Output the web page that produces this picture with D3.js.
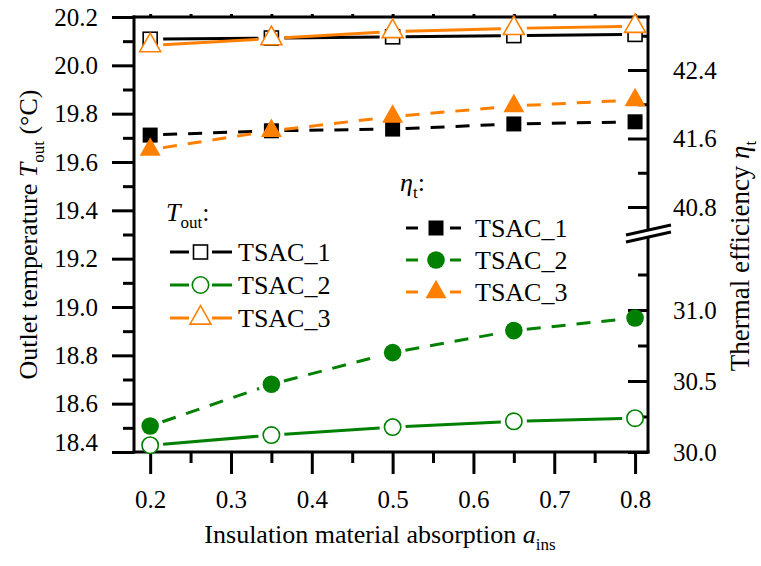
<!DOCTYPE html>
<html>
<head>
<meta charset="utf-8">
<script src="https://cdn.jsdelivr.net/npm/d3@7"></script>
<style>
  body { margin: 0; background: #fff; }
  svg { display: block; }
  svg text { font-family: 'Liberation Serif', Tinos, 'Times New Roman', Times, 'DejaVu Serif', serif; }
</style>
</head>
<body>
<div id="viz"></div>
<script>
/* ===== DATA ===== */
const absorption = [0.2, 0.35, 0.5, 0.65, 0.8];

// outlet temperature (left axis, °C)
const toutTSAC1 = [20.108, 20.113, 20.118, 20.123, 20.128];
const toutTSAC2 = [18.428, 18.47, 18.503, 18.527, 18.54];
const toutTSAC3 = [20.082, 20.111, 20.14, 20.153, 20.162];

// thermal efficiency (right axis, broken)
const etaTSAC1 = [41.64, 41.69, 41.71, 41.77, 41.795];
const etaTSAC2 = [30.183, 30.477, 30.70, 30.855, 30.944];
const etaTSAC3 = [41.47, 41.69, 41.855, 41.98, 42.05];

const seriesNames = ['TSAC_1', 'TSAC_2', 'TSAC_3'];

const xTicks = [0.2, 0.3, 0.4, 0.5, 0.6, 0.7, 0.8];
const xMinorTicks = [0.25, 0.35, 0.45, 0.55, 0.65, 0.75];
const leftTicks = [18.4, 18.6, 18.8, 19.0, 19.2, 19.4, 19.6, 19.8, 20.0, 20.2];
const leftMinorTicks = [18.5, 18.7, 18.9, 19.1, 19.3, 19.5, 19.7, 19.9, 20.1];
const rightUpperTicks = [40.8, 41.6, 42.4];
const rightUpperMinor = [41.2, 42.0, 42.8];
const rightLowerTicks = [30.0, 30.5, 31.0];
const rightLowerMinor = [30.25, 30.75, 31.25];

/* ===== CHART DIMENSION ===== */
const width = 761;
const height = 566;
const frame = { left: 134, right: 648, top: 17, bottom: 452 };
const breakY = { top: 230, bottom: 237 };
const serif = "'Liberation Serif', Tinos, 'Times New Roman', Times, 'DejaVu Serif', serif";

const green = '#008000';
const orange = '#FF8000';
const black = '#000000';

/* ===== DRAW CANVAS ===== */
const svg = d3.select('#viz')
  .append('svg')
  .attr('width', width)
  .attr('height', height)
  .attr('font-family', serif);

svg.append('rect').attr('width', width).attr('height', height).attr('fill', '#fff');

/* ===== SCALES ===== */
const xScale = d3.scaleLinear()
  .domain([0.18, 0.816])
  .range([frame.left, frame.right]);

const yLeft = d3.scaleLinear()
  .domain([18.4, 20.2])
  .range([frame.bottom, frame.top]);

// right axis has two pieces around the break
const yRightUpper = d3.scaleLinear()
  .domain([40.8, 42.4])
  .range([207, 70]);

const yRightLower = d3.scaleLinear()
  .domain([30.0, 31.0])
  .range([frame.bottom, 310]);

/* ===== AXES ===== */
function styleAxis(g, fontSize) {
  g.attr('font-family', serif);
  g.select('.domain').remove();
  g.selectAll('line').attr('stroke', black).attr('stroke-width', 3);
  g.selectAll('text')
    .attr('fill', black)
    .attr('font-size', fontSize);
}

const fmt = d3.format('.1f');

// bottom
svg.append('g')
  .attr('transform', `translate(0, ${frame.bottom})`)
  .call(d3.axisBottom(xScale).tickValues(xTicks).tickSize(22).tickPadding(16).tickFormat(fmt))
  .call(g => styleAxis(g, 25));
svg.append('g')
  .attr('transform', `translate(0, ${frame.bottom})`)
  .call(d3.axisBottom(xScale).tickValues(xMinorTicks).tickSize(11).tickFormat(''))
  .call(g => styleAxis(g, 25));

// top (tiny ticks only)
svg.append('g')
  .attr('transform', `translate(0, ${frame.top})`)
  .call(d3.axisTop(xScale).tickValues(xTicks.concat(xMinorTicks)).tickSize(3).tickFormat(''))
  .call(g => styleAxis(g, 25));

// left
svg.append('g')
  .attr('transform', `translate(${frame.left}, 0)`)
  .call(d3.axisLeft(yLeft).tickValues(leftTicks).tickSize(22).tickPadding(14).tickFormat(fmt))
  .call(g => styleAxis(g, 25))
  .call(g => g.selectAll('text').attr('y', d => d === 18.4 ? -10 : 0));
svg.append('g')
  .attr('transform', `translate(${frame.left}, 0)`)
  .call(d3.axisLeft(yLeft).tickValues(leftMinorTicks).tickSize(11).tickFormat(''))
  .call(g => styleAxis(g, 25));

// right, upper part
svg.append('g')
  .attr('transform', `translate(${frame.right}, 0)`)
  .call(d3.axisRight(yRightUpper).tickValues(rightUpperTicks).tickSize(-20).tickPadding(25).tickFormat(fmt))
  .call(g => styleAxis(g, 25));
svg.append('g')
  .attr('transform', `translate(${frame.right}, 0)`)
  .call(d3.axisRight(yRightUpper).tickValues(rightUpperMinor).tickSize(-10).tickFormat(''))
  .call(g => styleAxis(g, 25));

// right, lower part
svg.append('g')
  .attr('transform', `translate(${frame.right}, 0)`)
  .call(d3.axisRight(yRightLower).tickValues(rightLowerTicks).tickSize(-20).tickPadding(25).tickFormat(fmt))
  .call(g => styleAxis(g, 25));
svg.append('g')
  .attr('transform', `translate(${frame.right}, 0)`)
  .call(d3.axisRight(yRightLower).tickValues(rightLowerMinor).tickSize(-10).tickFormat(''))
  .call(g => styleAxis(g, 25));

/* ===== FRAME ===== */
const frameG = svg.append('g')
  .attr('stroke', black)
  .attr('stroke-width', 3)
  .attr('stroke-linecap', 'square')
  .attr('fill', 'none');

frameG.append('line').attr('x1', frame.left).attr('x2', frame.right).attr('y1', frame.top).attr('y2', frame.top);
frameG.append('line').attr('x1', frame.left).attr('x2', frame.right).attr('y1', frame.bottom).attr('y2', frame.bottom);
frameG.append('line').attr('x1', frame.left).attr('x2', frame.left).attr('y1', frame.top).attr('y2', frame.bottom);
frameG.append('line').attr('x1', frame.right).attr('x2', frame.right).attr('y1', frame.top).attr('y2', breakY.top);
frameG.append('line').attr('x1', frame.right).attr('x2', frame.right).attr('y1', breakY.bottom).attr('y2', frame.bottom);

// axis break marks
const breakG = svg.append('g');
breakG.append('path')
  .attr('d', 'M626,235 L671,225 L671,232 L626,242 Z')
  .attr('fill', '#fff');
[0, 7].forEach(off => {
  breakG.append('line')
    .attr('x1', 626).attr('y1', 235 + off)
    .attr('x2', 671).attr('y2', 225 + off)
    .attr('stroke', black).attr('stroke-width', 3);
});

/* ===== SERIES ===== */
const lineGen = d3.line();
const gap = 13;

function drawSeries(values, yScale, color, dashed, symbol, filled) {
  const pts = absorption.map((a, i) => [xScale(a), yScale(values[i])]);
  const g = svg.append('g');
  // line pieces stop short of the symbols
  for (let i = 0; i < pts.length - 1; i++) {
    const [x0, y0] = pts[i];
    const [x1, y1] = pts[i + 1];
    const len = Math.hypot(x1 - x0, y1 - y0);
    const ux = (x1 - x0) / len;
    const uy = (y1 - y0) / len;
    g.append('path')
      .attr('d', lineGen([[x0 + ux * gap, y0 + uy * gap], [x1 - ux * gap, y1 - uy * gap]]))
      .attr('fill', 'none')
      .attr('stroke', color)
      .attr('stroke-width', 3)
      .attr('stroke-dasharray', dashed ? '14,11' : null);
  }
  pts.forEach(p => drawSymbol(g, p[0], p[1], symbol, color, filled));
}

function drawSymbol(g, cx, cy, symbol, color, filled) {
  const fill = filled ? color : '#fff';
  const sw = filled ? 0 : 1.6;
  if (symbol === 'square') {
    const s = filled ? 15 : 14;
    g.append('rect')
      .attr('x', cx - s / 2).attr('y', cy - s / 2)
      .attr('width', s).attr('height', s)
      .attr('fill', fill).attr('stroke', color).attr('stroke-width', sw);
  } else if (symbol === 'circle') {
    g.append('circle')
      .attr('cx', cx).attr('cy', cy)
      .attr('r', filled ? 8.8 : 8.2)
      .attr('fill', fill).attr('stroke', color).attr('stroke-width', sw);
  } else {
    // triangle centred on its centroid
    const w = 21, h = 18.5;
    const d = `M${cx},${cy - h * 2 / 3} L${cx + w / 2},${cy + h / 3} L${cx - w / 2},${cy + h / 3} Z`;
    g.append('path')
      .attr('d', d)
      .attr('fill', fill).attr('stroke', color).attr('stroke-width', sw)
      .attr('stroke-linejoin', 'miter');
  }
}

drawSeries(toutTSAC2, yLeft, green, false, 'circle', false);
drawSeries(etaTSAC2, yRightLower, green, true, 'circle', true);
drawSeries(toutTSAC1, yLeft, black, false, 'square', false);
drawSeries(toutTSAC3, yLeft, orange, false, 'triangle', false);
drawSeries(etaTSAC1, yRightUpper, black, true, 'square', true);
drawSeries(etaTSAC3, yRightUpper, orange, true, 'triangle', true);

/* ===== LEGENDS ===== */
const legendColors = [black, green, orange];
const legendSymbols = ['square', 'circle', 'triangle'];

// T_out block
const toutLeg = svg.append('g');
const toutTitle = toutLeg.append('text')
  .attr('x', 166).attr('y', 221)
  .attr('font-size', 26);
toutTitle.append('tspan').attr('font-style', 'italic').text('T');
toutTitle.append('tspan').attr('font-size', 17).attr('dy', 7).text('out');
toutTitle.append('tspan').attr('dy', -7).text(':');

const toutRows = [252, 285, 318];
seriesNames.forEach((name, i) => {
  const y = toutRows[i];
  toutLeg.append('line').attr('x1', 170).attr('x2', 189).attr('y1', y).attr('y2', y)
    .attr('stroke', legendColors[i]).attr('stroke-width', 3);
  toutLeg.append('line').attr('x1', 212).attr('x2', 232).attr('y1', y).attr('y2', y)
    .attr('stroke', legendColors[i]).attr('stroke-width', 3);
  drawSymbol(toutLeg, 200.5, y, legendSymbols[i], legendColors[i], false);
  toutLeg.append('text')
    .attr('x', 238).attr('y', y).attr('dy', '0.34em')
    .attr('font-size', 26)
    .text(name);
});

// eta_t block
const etaLeg = svg.append('g');
const etaTitle = etaLeg.append('text')
  .attr('x', 400).attr('y', 191)
  .attr('font-size', 26);
etaTitle.append('tspan').attr('font-style', 'italic').text('η');
etaTitle.append('tspan').attr('font-size', 17).attr('dy', 7).text('t');
etaTitle.append('tspan').attr('dy', -7).text(':');

const etaRows = [228, 260, 292];
seriesNames.forEach((name, i) => {
  const y = etaRows[i];
  etaLeg.append('line').attr('x1', 406).attr('x2', 418).attr('y1', y).attr('y2', y)
    .attr('stroke', legendColors[i]).attr('stroke-width', 3);
  etaLeg.append('line').attr('x1', 450).attr('x2', 461).attr('y1', y).attr('y2', y)
    .attr('stroke', legendColors[i]).attr('stroke-width', 3);
  drawSymbol(etaLeg, 436, y, legendSymbols[i], legendColors[i], true);
  etaLeg.append('text')
    .attr('x', 475).attr('y', y).attr('dy', '0.34em')
    .attr('font-size', 26)
    .text(name);
});

/* ===== AXIS TITLES ===== */
const xTitle = svg.append('text')
  .attr('x', 380).attr('y', 543)
  .attr('text-anchor', 'middle')
  .attr('font-size', 26);
xTitle.append('tspan').text('Insulation material absorption ');
xTitle.append('tspan').attr('font-style', 'italic').text('a');
xTitle.append('tspan').attr('font-size', 17).attr('dy', 7).text('ins');

const yLeftTitle = svg.append('text')
  .attr('transform', `translate(37, ${(frame.top + frame.bottom) / 2}) rotate(-90)`)
  .attr('text-anchor', 'middle')
  .attr('font-size', 26);
yLeftTitle.append('tspan').text('Outlet temperature ');
yLeftTitle.append('tspan').attr('font-style', 'italic').text('T');
yLeftTitle.append('tspan').attr('font-size', 17).attr('dy', 7).text('out');
yLeftTitle.append('tspan').attr('dy', -7).text(' (°C)');

const yRightTitle = svg.append('text')
  .attr('transform', `translate(749, 256) rotate(-90)`)
  .attr('text-anchor', 'middle')
  .attr('font-size', 27);
yRightTitle.append('tspan').text('Thermal efficiency ');
yRightTitle.append('tspan').attr('font-style', 'italic').text('η');
yRightTitle.append('tspan').attr('font-size', 17).attr('dy', 7).text('t');
</script>
</body>
</html>
